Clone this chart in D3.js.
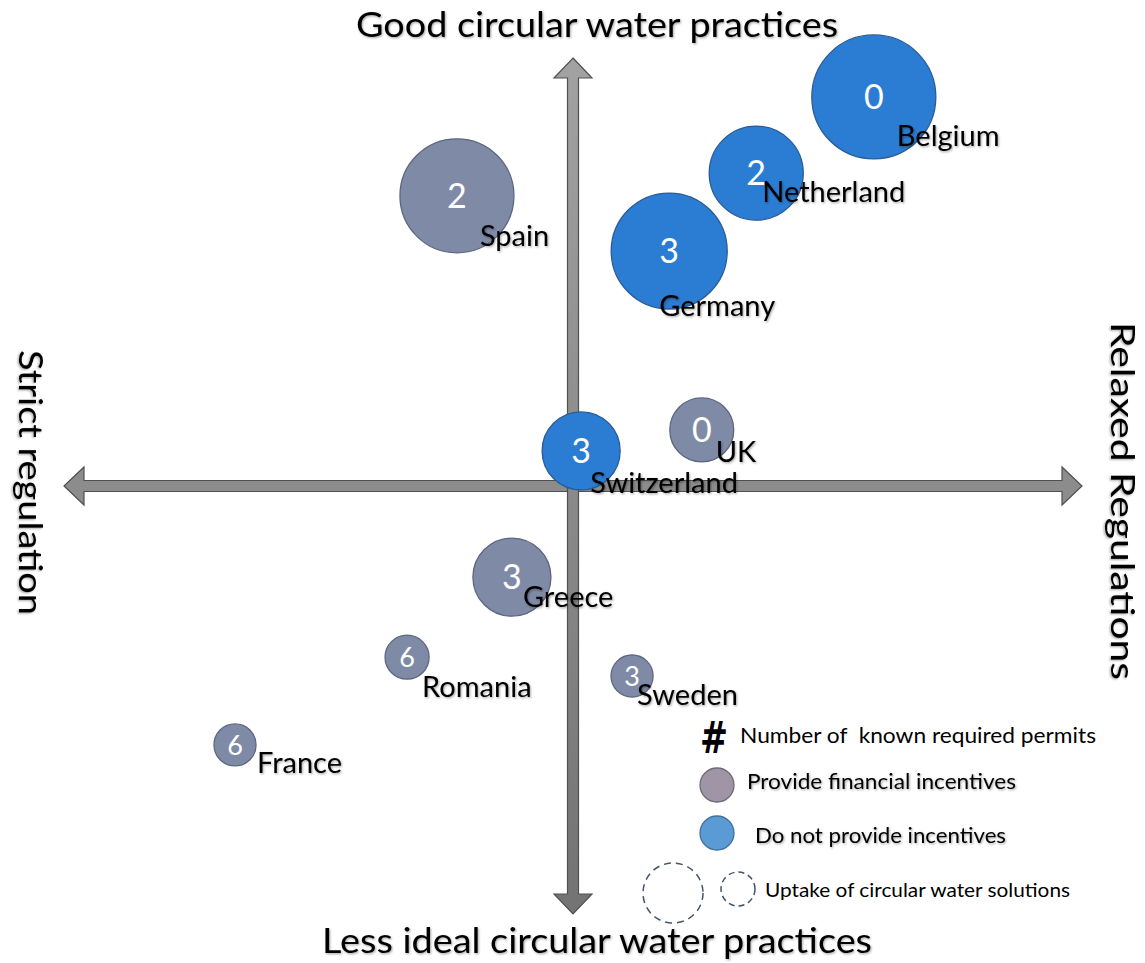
<!DOCTYPE html>
<html>
<head>
<meta charset="utf-8">
<script src="https://cdn.jsdelivr.net/npm/d3@7"></script>
<style>
  body { margin: 0; background: #fff; }
  text { font-family: Lato, "Open Sans", sans-serif; }
</style>
</head>
<body>
<script>
// data
var countries = ["Belgium", "Netherland", "Germany", "Spain", "Switzerland", "UK", "Greece", "Romania", "Sweden", "France"];
var regulation = [5.91, 3.6, 1.89, -2.28, 0.16, 2.53, -1.2, -3.26, 1.16, -6.64];   // strict (-) .. relaxed (+)
var practice = [9.09, 7.31, 5.49, 6.78, 0.82, 1.31, -2.13, -4.0, -4.44, -6.05];    // less ideal (-) .. good (+)
var uptake = [10, 5.75, 8.75, 8.45, 3.96, 2.66, 3.96, 1.26, 1.15, 1.15];
var permits = [0, 2, 3, 2, 3, 0, 3, 6, 3, 6];
var incentives = [false, false, false, true, false, true, true, true, true, true];

var legendItems = ["Number of  known required permits", "Provide financial incentives", "Do not provide incentives", "Uptake of circular water solutions"];

var width = 1145, height = 963;

var x = d3.scaleLinear().domain([-10, 10]).range([64, 1082]);
var y = d3.scaleLinear().domain([-10, 10]).range([914, 58]);
var r = d3.scaleSqrt().domain([0, 10]).range([0, 62]);

var svg = d3.select("body").append("svg")
  .attr("width", width)
  .attr("height", height);

var defs = svg.append("defs");
var shadow = defs.append("filter").attr("id", "shadow")
  .attr("x", "-10%").attr("y", "-20%").attr("width", "130%").attr("height", "150%");
shadow.append("feDropShadow")
  .attr("dx", 1).attr("dy", 1.2).attr("stdDeviation", 0.8)
  .attr("flood-color", "#000").attr("flood-opacity", 0.35);

var grad = defs.append("linearGradient").attr("id", "vgrad")
  .attr("x1", 0).attr("y1", 0).attr("x2", 0).attr("y2", 1);
grad.append("stop").attr("offset", "0%").attr("stop-color", "#a2a2a2");
grad.append("stop").attr("offset", "100%").attr("stop-color", "#737373");

//========//
// Arrows //
//========//
var shaft = 5.5, head = 19, headLen = 20;
var x0 = x(0), y0 = y(0);
var xl = x(-10), xr = x(10), yt = y(10), yb = y(-10);

var hArrow = [
  [xl, y0], [xl + headLen, y0 - head], [xl + headLen, y0 - shaft],
  [xr - headLen, y0 - shaft], [xr - headLen, y0 - head], [xr, y0],
  [xr - headLen, y0 + head], [xr - headLen, y0 + shaft],
  [xl + headLen, y0 + shaft], [xl + headLen, y0 + head]
];
var vArrow = [
  [x0, yt], [x0 + head, yt + headLen], [x0 + shaft, yt + headLen],
  [x0 + shaft, yb - headLen], [x0 + head, yb - headLen], [x0, yb],
  [x0 - head, yb - headLen], [x0 - shaft, yb - headLen],
  [x0 - shaft, yt + headLen], [x0 - head, yt + headLen]
];

svg.append("path")
  .attr("d", "M" + hArrow.join("L") + "Z")
  .style("fill", "#8c8c8c")
  .style("stroke", "#505050")
  .style("stroke-width", 1.2);

svg.append("path")
  .attr("d", "M" + vArrow.join("L") + "Z")
  .style("fill", "url(#vgrad)")
  .style("stroke", "#505050")
  .style("stroke-width", 1.2);

//=============//
// Axis titles //
//=============//
svg.append("text")
  .attr("x", 356).attr("y", 37)
  .attr("textLength", 482).attr("lengthAdjust", "spacingAndGlyphs")
  .style("font-size", "35px")
  .attr("filter", "url(#shadow)")
  .text("Good circular water practices");

svg.append("text")
  .attr("x", 322).attr("y", 953)
  .attr("textLength", 550).attr("lengthAdjust", "spacingAndGlyphs")
  .style("font-size", "34px")
  .attr("filter", "url(#shadow)")
  .text("Less ideal circular water practices");

svg.append("text")
  .attr("transform", "translate(19,350) rotate(90)")
  .attr("textLength", 265).attr("lengthAdjust", "spacingAndGlyphs")
  .style("font-size", "33px")
  .attr("filter", "url(#shadow)")
  .text("Strict regulation");

svg.append("text")
  .attr("transform", "translate(1111,322) rotate(90)")
  .attr("textLength", 358).attr("lengthAdjust", "spacingAndGlyphs")
  .style("font-size", "33px")
  .attr("filter", "url(#shadow)")
  .text("Relaxed Regulations");

//=========//
// Bubbles //
//=========//
var rows = countries.map(function(c, i) {
  return { name: c, x: regulation[i], y: practice[i], uptake: uptake[i], permits: permits[i], inc: incentives[i] };
});

// label nudges (pixels from bubble centre) to follow the original placement
var nudge = {
  Belgium: [23, 49], Netherland: [6, 29], Germany: [-10, 65], Spain: [23, 50],
  Switzerland: [9, 42], UK: [14, 32], Greece: [11, 30], Romania: [15, 40],
  Sweden: [5, 29], France: [22, 28]
};

svg.selectAll(".bubble")
  .data(rows)
  .enter().append("circle")
  .attr("class", "bubble")
  .attr("cx", function(d) { return x(d.x); })
  .attr("cy", function(d) { return y(d.y); })
  .attr("r", function(d) { return r(d.uptake); })
  .style("fill", function(d) { return d.inc ? "#7f8ba6" : "#2b7cd3"; })
  .style("stroke", function(d) { return d.inc ? "#5b6680" : "#2a5b95"; })
  .style("stroke-width", 1.3);

svg.selectAll(".num")
  .data(rows)
  .enter().append("text")
  .attr("class", "num")
  .attr("x", function(d) { return x(d.x); })
  .attr("y", function(d) { return y(d.y); })
  .attr("text-anchor", "middle")
  .attr("dy", "0.36em")
  .style("fill", "#fff")
  .style("font-size", function(d) { return r(d.uptake) < 25 ? "27px" : "34px"; })
  .text(function(d) { return d.permits; });

svg.selectAll(".label")
  .data(rows)
  .enter().append("text")
  .attr("class", "label")
  .attr("x", function(d) { return x(d.x) + nudge[d.name][0]; })
  .attr("y", function(d) { return y(d.y) + nudge[d.name][1]; })
  .attr("filter", "url(#shadow)")
  .style("font-size", "29px")
  .text(function(d) { return d.name; });

//========//
// Legend //
//========//
var legend = svg.append("g");

legend.append("text")
  .attr("x", 700).attr("y", 753)
  .style("font-size", "44px").style("font-weight", "bold")
  .style("font-family", "'DejaVu Sans', sans-serif")
  .attr("textLength", 28).attr("lengthAdjust", "spacingAndGlyphs")
  .text("#");

legend.append("circle").attr("cx", 717).attr("cy", 785).attr("r", 17)
  .style("fill", "#a095a6").style("stroke", "#6f6a78").style("stroke-width", 1.3);
legend.append("circle").attr("cx", 717).attr("cy", 833).attr("r", 17)
  .style("fill", "#5b9bd5").style("stroke", "#41719c").style("stroke-width", 1.3);
legend.append("circle").attr("cx", 673).attr("cy", 893).attr("r", 30)
  .style("fill", "none").style("stroke", "#44546a").style("stroke-width", 1.5)
  .style("stroke-dasharray", "7,5");
legend.append("circle").attr("cx", 738).attr("cy", 889).attr("r", 17)
  .style("fill", "none").style("stroke", "#44546a").style("stroke-width", 1.5)
  .style("stroke-dasharray", "6,4");

var legendPos = [[740, 743, 356], [747, 789, 269], [755, 843, 251], [765, 897, 305]];
legend.selectAll(".leg")
  .data(legendItems)
  .enter().append("text")
  .attr("class", "leg")
  .attr("x", function(d, i) { return legendPos[i][0]; })
  .attr("y", function(d, i) { return legendPos[i][1]; })
  .attr("textLength", function(d, i) { return legendPos[i][2]; })
  .attr("lengthAdjust", "spacingAndGlyphs")
  .attr("filter", function(d, i) { return i == 1 || i == 2 ? "url(#shadow)" : null; })
  .style("white-space", "pre")
  .style("font-size", function(d, i) { return i == 3 ? "20px" : "21px"; })
  .text(function(d) { return d; });
</script>
</body>
</html>
